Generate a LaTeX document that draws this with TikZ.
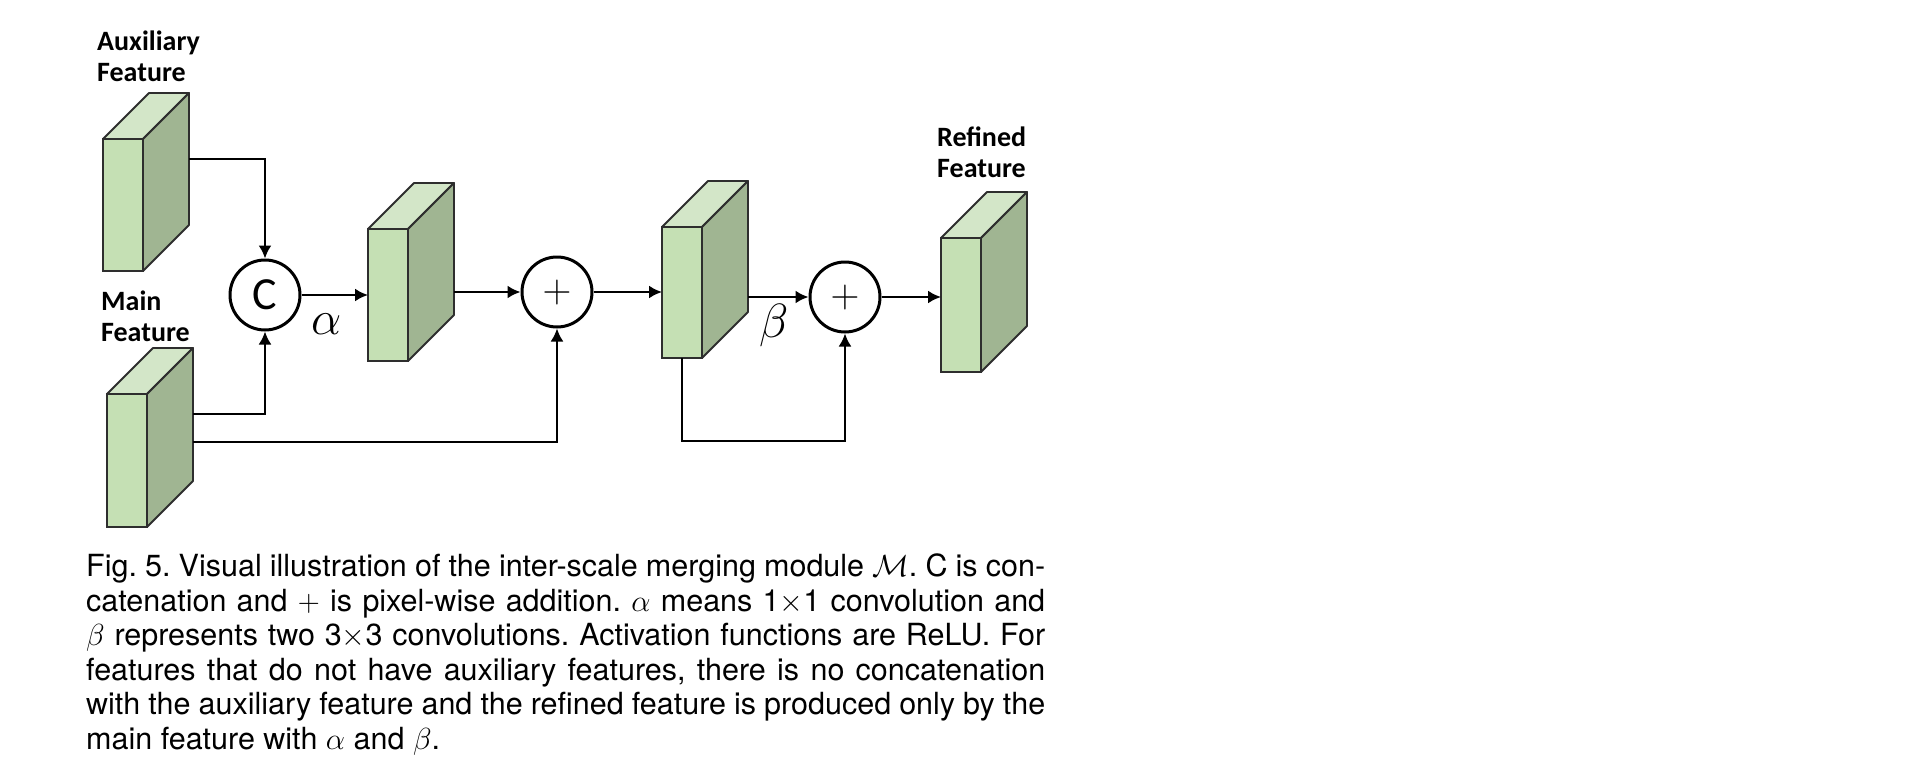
\RequirePackage{fix-cm}
\documentclass[tikz,border=0pt]{standalone}
\usepackage{fontspec}
\setmainfont{TeX Gyre Heros}
\newfontfamily\lblfont{Carlito}
\usetikzlibrary{arrows.meta,calc}

\definecolor{frontgreen}{HTML}{C5E0B4}
\definecolor{topgreen}{HTML}{D3E6C8}
\definecolor{sidegreen}{HTML}{A0B592}
\definecolor{edgegray}{HTML}{2E2E2E}

\tikzset{
	frontface/.style={draw=edgegray, fill=frontgreen, line width=1.8pt, minimum width=40pt, inner sep=0pt, outer sep=0pt, anchor=north west},
	topface/.style={draw=edgegray, fill=topgreen, line width=1.8pt, line join=round},
	sideface/.style={draw=edgegray, fill=sidegreen, line width=1.8pt, line join=round},
	opnode/.style={circle, draw, line width=3pt, minimum size=70pt, inner sep=0pt, fill=white},
	flow/.style={line width=2.2pt, -{Latex[length=13pt,width=13pt]}},
	featlabel/.style={font=\lblfont\bfseries\fontsize{28}{31}\selectfont, align=left, inner sep=0pt, anchor=north west},
	greek/.style={font=\fontsize{48}{48}\selectfont, inner sep=0pt}
}

% front face is a node, top and side faces hang off its corners
\newcommand{\featblock}[3]{%
	\node[frontface, minimum height=#3pt] (#1) at #2 {};
	\draw[topface] (#1.north west) -- ++(46,-46) -- ++(40,0) -- (#1.north east) -- cycle;
	\draw[sideface] (#1.north east) -- ++(46,-46) -- ++(0,#3) -- (#1.south east) -- cycle;
	\coordinate (#1r) at ($(#1.north east)+(46,-46)$);
}

\begin{document}
\begin{tikzpicture}[x=1pt,y=-1pt]
	\useasboundingbox (0,0) rectangle (1932,776);
	
	\featblock{aux}{(103,139)}{132}
	\featblock{main}{(107,394)}{133}
	\featblock{mid}{(368,229)}{132}
	\featblock{res}{(662,227)}{131}
	\featblock{out}{(941,238)}{134}
	
	\node[featlabel] (auxlbl) at (97,31) {Auxiliary\\Feature};
	\node[featlabel] (mainlbl) at (101,291) {Main\\Feature};
	\node[featlabel] (outlbl) at (937,127) {Refined\\Feature};
	
	\node[opnode, font=\lblfont\fontsize{46}{46}\selectfont] (cat) at (265,295) {C};
	\node[opnode, font=\fontsize{40}{40}\selectfont] (add1) at (557,292) {$+$};
	\node[opnode, font=\fontsize{40}{40}\selectfont] (add2) at (845,297) {$+$};
	
	\node[greek] (alpha) at (327,324) {$\alpha$};
	\node[greek] (beta) at (774,325) {$\beta$};
	
	\draw[flow] ($(auxr)+(0,66)$) -| (cat.north);
	\draw[flow] ($(mainr)+(0,66)$) -| (cat.south);
	\draw[flow] ($(mainr)+(0,94)$) -| (add1.south);
	\draw[flow] (cat.east) -- (cat.east -| mid.west);
	\draw[flow] (add1.west -| midr) -- (add1.west);
	\draw[flow] (add1.east) -- (add1.east -| res.west);
	\draw[flow] (add2.west -| resr) -- (add2.west);
	\draw[flow] (add2.east) -- (add2.east -| out.west);
	\draw[flow] (res.south) -- ++(0,83) -| (add2.south);
	
	\node[anchor=north west, text width=959pt, align=justify, inner sep=0pt, font=\fontsize{30.5}{34.5}\selectfont\frenchspacing] (caption) at (86,554) {%
		Fig. 5. Visual illustration of the inter-scale merging module $\mathcal{M}$. C is con-\linebreak
		catenation and $+$ is pixel-wise addition. $\alpha$ means 1$\times$1 convolution and\linebreak
		$\beta$ represents two 3$\times$3 convolutions. Activation functions are ReLU. For\linebreak
		features that do not have auxiliary features, there is no concatenation\linebreak
		with the auxiliary feature and the refined feature is produced only by the\linebreak
		main feature with $\alpha$ and $\beta$.};
	
\end{tikzpicture}
\end{document}
